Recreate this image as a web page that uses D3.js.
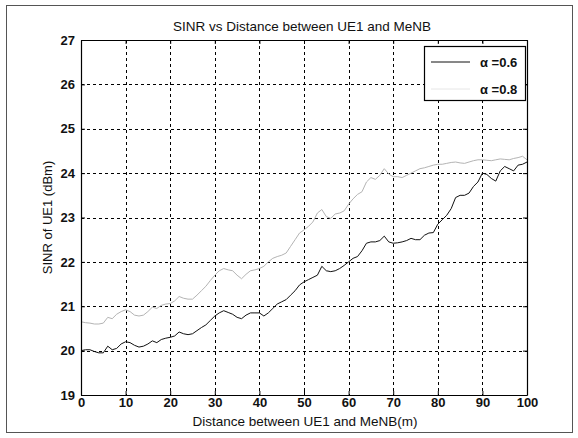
<!DOCTYPE html>
<html><head><meta charset="utf-8">
<script src="https://cdn.jsdelivr.net/npm/d3@7"></script>
<style>
html,body{margin:0;padding:0;background:#fff;}
svg text{font-family:"Liberation Sans",Arial,sans-serif;fill:#111;}
</style></head>
<body>
<svg id="chart" width="578" height="438"></svg>
<script>
const title = "SINR vs Distance between UE1 and MeNB";
const xLabel = "Distance between UE1 and MeNB(m)";
const yLabel = "SINR of UE1 (dBm)";
const seriesNames = ["\u03b1 =0.6", "\u03b1 =0.8"];
const xTicks = [0,10,20,30,40,50,60,70,80,90,100];
const yTicks = [19,20,21,22,23,24,25,26,27];
const distance = [];
for (let i = 0; i <= 100; i++) distance.push(i);
const sinrAlpha06 = [20.0,20.02,20.02,19.98,19.95,19.95,20.1,20.02,20.05,20.15,
20.2,20.18,20.12,20.08,20.1,20.15,20.22,20.18,20.25,20.28,
20.3,20.33,20.42,20.38,20.36,20.38,20.45,20.52,20.58,20.68,
20.78,20.85,20.9,20.86,20.82,20.75,20.72,20.8,20.85,20.85,
20.85,20.78,20.85,20.95,21.05,21.1,21.15,21.25,21.35,21.48,
21.55,21.6,21.65,21.7,21.9,21.8,21.78,21.8,21.85,21.92,
22.0,22.08,22.12,22.25,22.42,22.45,22.45,22.48,22.58,22.45,
22.42,22.43,22.45,22.48,22.53,22.5,22.5,22.6,22.65,22.66,
22.85,22.95,23.05,23.2,23.45,23.5,23.5,23.55,23.7,23.8,
24.0,23.97,23.88,23.82,24.05,24.15,24.1,24.05,24.18,24.2,24.25];
const sinrAlpha08 = [20.65,20.63,20.62,20.6,20.6,20.62,20.75,20.72,20.82,20.88,
20.92,20.88,20.8,20.78,20.8,20.88,20.98,20.95,21.02,21.05,
21.06,21.12,21.22,21.18,21.16,21.16,21.25,21.35,21.45,21.58,
21.7,21.8,21.85,21.82,21.8,21.7,21.62,21.72,21.8,21.82,
21.85,21.9,22.0,22.08,22.12,22.15,22.2,22.35,22.5,22.65,
22.72,22.8,22.9,23.1,23.18,23.02,22.98,23.08,23.1,23.15,
23.3,23.42,23.52,23.58,23.8,23.9,23.86,23.95,24.1,23.98,
23.92,23.92,23.9,23.95,24.0,24.05,24.1,24.12,24.15,24.18,
24.2,24.2,24.22,24.24,24.25,24.23,24.22,24.25,24.28,24.3,
24.3,24.29,24.28,24.3,24.32,24.31,24.3,24.33,24.35,24.38,24.3];
const colors = ["#111", "#b4b4b4"];

const svg = d3.select("#chart");
const W = 578, H = 438;
const m = {left: 81, right: 51, top: 40, bottom: 43};
const iw = W - m.left - m.right, ih = H - m.top - m.bottom;

svg.append("rect").attr("x",0).attr("y",0).attr("width",W).attr("height",H).attr("fill","#fff");
svg.append("rect").attr("x",6.5).attr("y",5.5).attr("width",566).attr("height",427)
  .attr("fill","none").attr("stroke","#555").attr("stroke-width",1);

const x = d3.scaleLinear().domain([0,100]).range([m.left, m.left+iw]);
const y = d3.scaleLinear().domain([19,27]).range([m.top+ih, m.top]);

const grid = svg.append("g").attr("stroke","#000").attr("stroke-width",1).attr("stroke-dasharray","3,3");
grid.selectAll("line.v").data(xTicks.slice(1,-1)).join("line")
  .attr("x1",d=>Math.round(x(d))+0.5).attr("x2",d=>Math.round(x(d))+0.5)
  .attr("y1",m.top).attr("y2",m.top+ih);
grid.selectAll("line.h").data(yTicks.slice(1,-1)).join("line")
  .attr("y1",d=>Math.round(y(d))+0.5).attr("y2",d=>Math.round(y(d))+0.5)
  .attr("x1",m.left).attr("x2",m.left+iw);

const line = d3.line().x((d,i)=>x(distance[i])).y(d=>y(d));
svg.append("path").datum(sinrAlpha08).attr("d",line).attr("fill","none")
  .attr("stroke",colors[1]).attr("stroke-width",1);
svg.append("path").datum(sinrAlpha06).attr("d",line).attr("fill","none")
  .attr("stroke",colors[0]).attr("stroke-width",1);

const xAxis = d3.axisBottom(x).tickValues(xTicks).tickSizeInner(-4).tickSizeOuter(0).tickPadding(3);
const gx = svg.append("g").attr("transform",`translate(0,${m.top+ih})`).call(xAxis);
const yAxis = d3.axisLeft(y).tickValues(yTicks).tickSizeInner(-4).tickSizeOuter(0).tickPadding(6);
const gy = svg.append("g").attr("transform",`translate(${m.left},0)`).call(yAxis);
const gx2 = svg.append("g").attr("transform",`translate(0,${m.top})`)
  .call(d3.axisTop(x).tickValues(xTicks).tickSizeInner(-4).tickSizeOuter(0).tickFormat(""));
const gy2 = svg.append("g").attr("transform",`translate(${m.left+iw},0)`)
  .call(d3.axisRight(y).tickValues(yTicks).tickSizeInner(-4).tickSizeOuter(0).tickFormat(""));
[gx,gy,gx2,gy2].forEach(g=>{
  g.select(".domain").attr("stroke","#000").attr("stroke-width",1.2);
  g.selectAll(".tick line").attr("stroke","#000");
  g.selectAll("text").attr("font-size",13).attr("font-weight","bold")
    .attr("font-family","\"Liberation Sans\",Arial,sans-serif").attr("fill","#111");
});

svg.append("text").attr("x",302).attr("y",31).attr("text-anchor","middle")
  .attr("font-size",13.5).text(title);
svg.append("text").attr("x",305).attr("y",426).attr("text-anchor","middle")
  .attr("font-size",13.5).text(xLabel);
svg.append("text").attr("transform",`translate(52,${y(23)}) rotate(-90)`).attr("text-anchor","middle")
  .attr("font-size",13).text(yLabel);

const lg = svg.append("g").attr("transform","translate(424,46)");
lg.append("rect").attr("x",0.5).attr("y",0.5).attr("width",101).attr("height",54)
  .attr("fill","#fff").attr("stroke","#000").attr("stroke-width",1.2);
seriesNames.forEach((s,i)=>{
  const yy = 16 + i*27;
  lg.append("line").attr("x1",7).attr("x2",46).attr("y1",yy).attr("y2",yy)
    .attr("stroke",i===0?colors[0]:"#e6e6e6").attr("stroke-width",1);
  lg.append("text").attr("x",56).attr("y",yy+5).attr("font-size",13).attr("font-weight","bold").text(s);
});
</script>
</body></html>
